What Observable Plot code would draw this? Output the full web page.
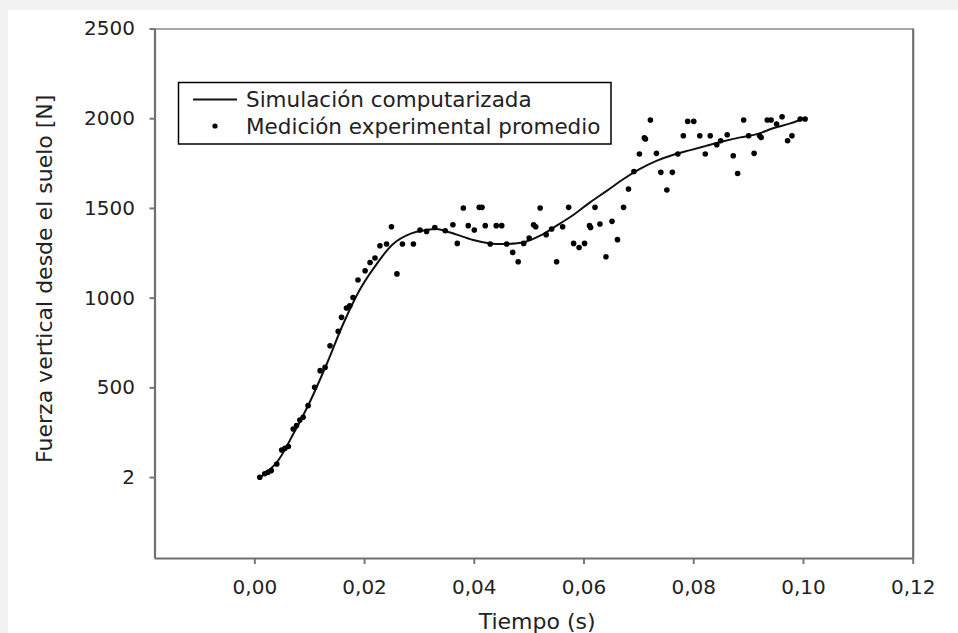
<!DOCTYPE html>
<html><head><meta charset="utf-8">
<script src="https://cdn.jsdelivr.net/npm/d3@7"></script>
<script src="https://cdn.jsdelivr.net/npm/@observablehq/plot@0.6"></script>
<style>
html,body{margin:0;padding:0;background:#f2f2f2;width:958px;height:633px;overflow:hidden;}
#wrap{position:absolute;left:8px;top:10px;width:950px;height:623px;background:#fff;}
</style></head><body><div id="wrap"></div>
<script>
// Simulación computarizada (line)
const simT = [0.0009,0.004,0.007,0.010,0.0131,0.0161,0.0192,0.0222,0.0252,0.0283,0.0313,0.0331,0.0356,0.0368,0.0398,0.0429,0.0459,0.049,0.052,0.055,0.0581,0.0611,0.0642,0.0672,0.0702,0.0733,0.0763,0.0794,0.0824,0.0854,0.0885,0.0915,0.0946,0.0976,0.1003];
const simF = [0,85,243,420,633,856,1051,1190,1302,1358,1380,1385,1366,1354,1324,1305,1302,1311,1348,1404,1465,1534,1599,1664,1720,1766,1799,1825,1850,1874,1896,1914,1948,1974,2004];

// Medición experimental promedio (points)
const expT = [0.0009,0.0018,0.0024,0.0030,0.0040,0.0049,0.0055,0.0061,0.0070,0.0076,0.0082,0.0088,0.0097,0.0109,0.0119,0.0128,0.0137,0.0152,0.0158,0.0167,0.0173,0.0179,0.0188,0.0201,0.0210,0.0219,0.0228,0.0240,0.0249,0.0259,0.0269,0.0289,0.0301,0.0313,0.0328,0.0347,
0.0361,0.0369,0.0380,0.0389,0.0400,0.0409,0.0414,0.0420,0.0429,0.0440,0.0450,0.0459,0.0470,0.0480,0.0490,0.0500,0.0508,0.0512,0.0520,0.0531,0.0541,0.0550,0.0561,0.0572,0.0581,0.0591,0.0601,0.0610,0.0612,0.0620,0.0629,0.0640,0.0651,0.0661,0.0672,0.0681,0.0691,0.0701,0.0710,0.0712,0.0721,0.0732,0.0740,0.0751,0.0761,0.0771,0.0781,0.0789,0.0800,0.0811,0.0821,0.0830,0.0842,0.0849,0.0861,0.0872,0.0880,0.0891,0.0900,0.0910,0.0920,0.0923,0.0934,0.0941,0.0951,0.0961,0.0971,0.0979,0.0994,0.1003];
const expF = [2,21,30,39,76,154,163,173,271,290,321,336,401,503,596,614,735,815,893,945,958,1004,1101,1153,1199,1224,1292,1302,1398,1135,1302,1302,1380,1372,1394,1376,
1409,1305,1502,1404,1380,1506,1506,1404,1302,1404,1404,1302,1255,1203,1305,1335,1409,1398,1502,1354,1385,1203,1398,1506,1305,1282,1305,1404,1394,1506,1413,1231,1428,1326,1506,1608,1706,1803,1893,1887,1993,1807,1701,1603,1701,1803,1905,1985,1985,1905,1803,1905,1855,1877,1911,1794,1695,1993,1905,1807,1905,1895,1993,1993,1970,2011,1877,1905,1998,1998];

const xTicks = [0,0.02,0.04,0.06,0.08,0.10,0.12];
const xTickLabels = ["0,00","0,02","0,04","0,06","0,08","0,10","0,12"];
const yTicks = [0,500,1000,1500,2000,2500];
const yTickLabels = ["2","500","1000","1500","2000","2500"];

const xTitle = "Tiempo (s)";
const yTitle = "Fuerza vertical desde el suelo [N]";
const legendLabels = ["Simulación computarizada","Medición experimental promedio"];

const xDomain = [-0.0182, 0.12];
const yDomain = [-451, 2500];

const sim = simT.map((t,i)=>({t, f: simF[i]}));
const exp = expT.map((t,i)=>({t, f: expF[i]}));
const xLab = new Map(xTicks.map((d,i)=>[d, xTickLabels[i]]));
const yLab = new Map(yTicks.map((d,i)=>[d, yTickLabels[i]]));

const font = "DejaVu Sans, Verdana, sans-serif";

const chart = Plot.plot({
  width: 950, height: 623,
  marginLeft: 146.5, marginRight: 45.3, marginTop: 18.5, marginBottom: 75,
  style: {fontFamily: font, background: "#fff", overflow: "visible"},
  x: {domain: xDomain, axis: null},
  y: {domain: yDomain, axis: null},
  marks: [
    Plot.axisX(xTicks, {anchor: "bottom", tickSize: 6, tickPadding: 15, tickFormat: d => xLab.get(d), fontSize: 20, stroke: "#777", strokeWidth: 2, fill: "#222", label: null}),
    Plot.axisY(yTicks, {anchor: "left", tickSize: 5, tickPadding: 15, tickFormat: d => yLab.get(d), fontSize: 20, stroke: "#777", strokeWidth: 2, fill: "#222", label: null}),
    Plot.ruleY([yDomain[1]], {stroke: "#a8a8a8", strokeWidth: 2}),
    Plot.ruleX([xDomain[0]], {stroke: "#707070", strokeWidth: 2.2}),
    Plot.ruleX([xDomain[1]], {stroke: "#707070", strokeWidth: 2.2}),
    Plot.ruleY([yDomain[0]], {stroke: "#707070", strokeWidth: 2.2}),
    Plot.line(sim, {x: "t", y: "f", stroke: "#111", strokeWidth: 2, curve: "catmull-rom"}),
    Plot.dot(exp, {x: "t", y: "f", r: 2.8, fill: "#000", stroke: "none"}),
    Plot.text([xTitle], {frameAnchor: "bottom", dx: 3, dy: 70, fontSize: 22, fill: "#222"}),
    Plot.text([yTitle], {frameAnchor: "left", textAnchor: "middle", rotate: -90, dx: -110, dy: -15, fontSize: 22, fill: "#222"})
  ]
});
document.getElementById("wrap").appendChild(chart);

// Legend box (inside plot frame, upper-left)
const svg = d3.select(chart);
const lg = svg.append("g").attr("font-family", font).attr("font-size", 21.5).attr("fill", "#222").attr("text-anchor", "start");
lg.append("rect").attr("x", 170.5).attr("y", 72.5).attr("width", 432.5).attr("height", 61.5)
  .attr("fill", "#fff").attr("stroke", "#000").attr("stroke-width", 1.5);
lg.append("line").attr("x1", 185).attr("x2", 229).attr("y1", 89.5).attr("y2", 89.5)
  .attr("stroke", "#111").attr("stroke-width", 2);
lg.append("circle").attr("cx", 207).attr("cy", 116).attr("r", 2.6).attr("fill", "#000");
lg.append("text").attr("x", 238).attr("y", 89.5).attr("dy", "0.35em").text(legendLabels[0]);
lg.append("text").attr("x", 238).attr("y", 116).attr("dy", "0.35em").text(legendLabels[1]);
</script>
</body></html>
